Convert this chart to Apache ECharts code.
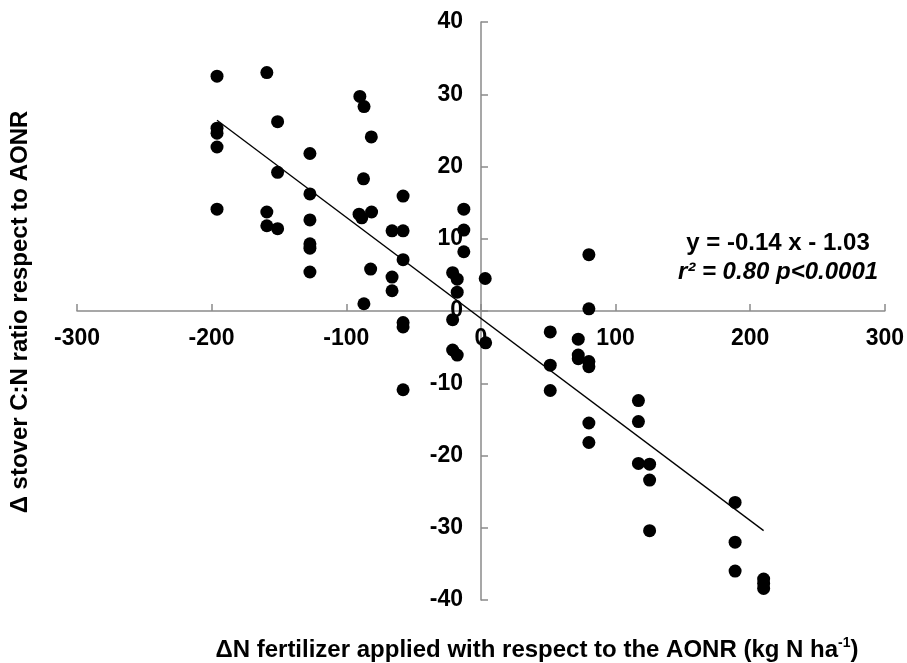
<!DOCTYPE html>
<html>
<head>
<meta charset="utf-8">
<script src="https://cdn.jsdelivr.net/npm/echarts@6/dist/echarts.min.js"></script>
<style>
html,body{margin:0;padding:0;background:#fff;}
#chart{width:907px;height:663px;}
</style>
</head>
<body>
<div id="chart"></div>
<script>
// Observations: delta N fertilizer (x) vs delta stover C:N ratio (y)
const pointsX = [
  -196, -196, -196, -196, -196,
  -159, -159, -159,
  -151, -151, -151,
  -127, -127, -127, -127, -127, -127,
  -89.9, -86.8, -81.4, -87.2, -90.5, -88.5, -81.2, -81.9, -86.9,
  -66, -66, -66,
  -57.8, -57.8, -57.8, -57.8, -57.8, -57.8,
  -21, -21, -21,
  -17.6, -17.6, -17.6,
  -12.7, -12.7, -12.7,
  3.2, 3.5,
  51.5, 51.5, 51.5,
  72.3, 72.3, 72.3,
  80.2, 80.2, 80.2, 80.2, 80.2, 80.2,
  117, 117, 117,
  125.3, 125.3, 125.3,
  188.8, 188.8, 188.8,
  210, 210, 210
];
const pointsY = [
  32.5, 25.3, 24.6, 22.7, 14.1,
  33.0, 13.7, 11.8,
  26.2, 19.2, 11.4,
  21.8, 16.2, 12.6, 9.3, 8.7, 5.4,
  29.7, 28.3, 24.1, 18.3, 13.4, 12.9, 13.7, 5.8, 1.0,
  11.1, 4.7, 2.8,
  15.9, 11.1, 7.1, -1.6, -2.2, -10.9,
  5.3, -1.2, -5.4,
  4.4, 2.6, -6.1,
  14.1, 11.2, 8.2,
  4.5, -4.4,
  -2.9, -7.5, -11.0,
  -3.9, -6.1, -6.6,
  7.8, 0.3, -7.0, -7.7, -15.5, -18.2,
  -12.4, -15.3, -21.1,
  -21.2, -23.4, -30.4,
  -26.5, -32.0, -36.0,
  -37.1, -37.7, -38.4
];
// Regression line end points as drawn
const trendX = [-196, 210];
const trendY = [26.4, -30.4];

const xMin = -300, xMax = 300, xStep = 100;
const yMin = -40, yMax = 40, yStep = 10;

const xTitle = '{a|\u0394N fertilizer applied with respect to the AONR (kg N ha}{s|-1}{a|)}';
const yTitle = '\u0394 stover C:N ratio respect to AONR';
const eqText = 'y = -0.14 x - 1.03';
const statText = 'r\u00B2 = 0.80 p<0.0001';

const FONT = '"Liberation Sans", Arial, Helvetica, sans-serif';

const GRID = {left: 77, right: 22, top: 22, bottom: 63};
const plotW = 907 - GRID.left - GRID.right;
const plotH = 663 - GRID.top - GRID.bottom;

const chart = echarts.init(document.getElementById('chart'), null, {renderer: 'canvas'});
const scatterData = pointsX.map((x, i) => [x, pointsY[i]]);
const trendData = trendX.map((x, i) => [x, trendY[i]]);

chart.setOption({
  backgroundColor: '#ffffff',
  animation: false,
  grid: Object.assign({containLabel: false}, GRID),
  xAxis: {
    type: 'value', min: xMin, max: xMax, interval: xStep,
    position: 'bottom',
    // the x axis crosses the y axis at y = 0 (middle of the symmetric range)
    offset: -plotH * (0 - yMin) / (yMax - yMin),
    axisLine: {onZero: false, lineStyle: {color: '#8a8a8a', width: 1.5}},
    axisTick: {show: true, inside: true, length: 7, lineStyle: {color: '#8a8a8a', width: 1.5}},
    axisLabel: {margin: 16, color: '#000', fontSize: 23, fontWeight: 'bold', fontFamily: FONT, showMinLabel: true, showMaxLabel: true},
    splitLine: {show: false}
  },
  yAxis: {
    type: 'value', min: yMin, max: yMax, interval: yStep,
    position: 'left',
    // the y axis crosses the x axis at x = 0
    offset: -plotW * (0 - xMin) / (xMax - xMin),
    axisLine: {onZero: false, lineStyle: {color: '#8a8a8a', width: 1.5}},
    axisTick: {show: true, inside: true, length: 7, lineStyle: {color: '#8a8a8a', width: 1.5}},
    axisLabel: {margin: 18, color: '#000', fontSize: 23, fontWeight: 'bold', fontFamily: FONT, showMinLabel: true, showMaxLabel: true},
    splitLine: {show: false}
  },
  series: [
    {
      type: 'line', data: trendData, symbol: 'none', z: 3,
      lineStyle: {color: '#000', width: 1.3}
    },
    {
      type: 'scatter', data: scatterData, symbol: 'circle', symbolSize: 13, z: 4,
      itemStyle: {color: '#000', opacity: 1}
    }
  ],
  graphic: [
    {
      type: 'text', x: 537, y: 650,
      style: {
        text: xTitle, textAlign: 'center', textVerticalAlign: 'middle',
        rich: {
          a: {fontSize: 24, fontWeight: 'bold', fontFamily: FONT, fill: '#000', lineHeight: 28},
          s: {fontSize: 14, fontWeight: 'bold', fontFamily: FONT, fill: '#000', verticalAlign: 'top', lineHeight: 16}
        }
      }
    },
    {
      type: 'text', x: 20, y: 312, rotation: Math.PI / 2,
      style: {
        text: yTitle, textAlign: 'center', textVerticalAlign: 'middle',
        fontSize: 24, fontWeight: 'bold', fontFamily: FONT, fill: '#000'
      }
    },
    {
      type: 'text', x: 778, y: 243,
      style: {
        text: eqText, textAlign: 'center', textVerticalAlign: 'middle',
        fontSize: 24, fontWeight: 'bold', fontFamily: FONT, fill: '#000'
      }
    },
    {
      type: 'text', x: 778, y: 272,
      style: {
        text: statText, textAlign: 'center', textVerticalAlign: 'middle',
        fontSize: 24, fontWeight: 'bold', fontStyle: 'italic', fontFamily: FONT, fill: '#000'
      }
    }
  ]
});
</script>
</body>
</html>
